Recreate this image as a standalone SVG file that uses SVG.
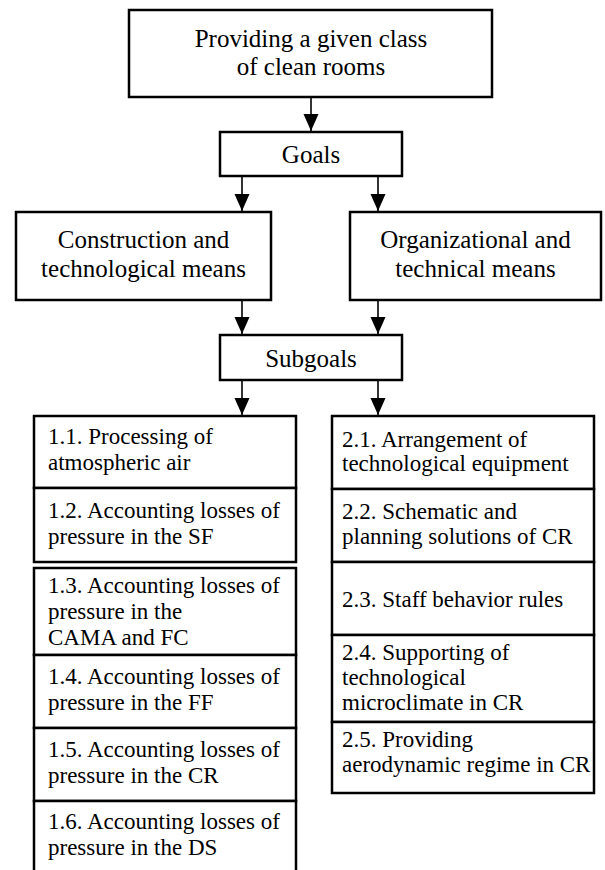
<svg xmlns="http://www.w3.org/2000/svg" width="605" height="870" viewBox="0 0 605 870">
<style>
.box{fill:#fff;stroke:#000;stroke-width:2.5}
.t{font-family:"Liberation Serif","Times New Roman",serif;font-size:25px;fill:#000}
.c{text-anchor:middle}
.s{font-family:"Liberation Serif","Times New Roman",serif;font-size:23px;fill:#000}
.ln{stroke:#000;stroke-width:1.6;fill:none;marker-end:url(#ah)}
</style>
<defs>
<marker id="ah" markerUnits="userSpaceOnUse" markerWidth="18" markerHeight="16" refX="17" refY="7.5" orient="auto">
<path d="M0,0 L17,7.5 L0,15 Z" fill="#000"/>
</marker>
</defs>
<rect width="605" height="870" fill="#fff"/>
<g id="connectors">
<line class="ln" x1="311" y1="97" x2="311" y2="131"/>
<line class="ln" x1="242" y1="176" x2="242" y2="211"/>
<line class="ln" x1="378" y1="176" x2="378" y2="211"/>
<line class="ln" x1="242" y1="300" x2="242" y2="334"/>
<line class="ln" x1="378" y1="300" x2="378" y2="334"/>
<line class="ln" x1="242" y1="380" x2="242" y2="415"/>
<line class="ln" x1="378" y1="380" x2="378" y2="415"/>
</g>
<g id="root">
<rect class="box" x="129" y="10" width="363" height="87"/>
<text class="t c" x="311" y="47">Providing a given class</text>
<text class="t c" x="311" y="75">of clean rooms</text>
</g>
<g id="goals">
<rect class="box" x="220" y="132" width="182" height="44"/>
<text class="t c" x="311" y="163">Goals</text>
</g>
<g id="construction">
<rect class="box" x="16" y="212" width="255" height="88"/>
<text class="t c" x="143.5" y="248">Construction and</text>
<text class="t c" x="143.5" y="277">technological means</text>
</g>
<g id="organizational">
<rect class="box" x="350" y="212" width="251" height="88"/>
<text class="t c" x="475.5" y="248">Organizational and</text>
<text class="t c" x="475.5" y="277">technical means</text>
</g>
<g id="subgoals">
<rect class="box" x="220" y="335" width="182" height="45"/>
<text class="t c" x="311" y="367">Subgoals</text>
</g>
<g id="s1-1">
<rect class="box" x="34" y="416" width="262" height="72"/>
<text class="s" x="48" y="444">1.1. Processing of</text>
<text class="s" x="48" y="470">atmospheric air</text>
</g>
<g id="s1-2">
<rect class="box" x="34" y="488" width="262" height="74"/>
<text class="s" x="48" y="518">1.2. Accounting losses of</text>
<text class="s" x="48" y="544">pressure in the SF</text>
</g>
<g id="s1-3">
<rect class="box" x="34" y="568" width="262" height="87"/>
<text class="s" x="48" y="593">1.3. Accounting losses of</text>
<text class="s" x="48" y="619">pressure in the</text>
<text class="s" x="48" y="645">CAMA and FC</text>
</g>
<g id="s1-4">
<rect class="box" x="34" y="655" width="262" height="73"/>
<text class="s" x="48" y="684">1.4. Accounting losses of</text>
<text class="s" x="48" y="710">pressure in the FF</text>
</g>
<g id="s1-5">
<rect class="box" x="34" y="728" width="262" height="73"/>
<text class="s" x="48" y="757">1.5. Accounting losses of</text>
<text class="s" x="48" y="783">pressure in the CR</text>
</g>
<g id="s1-6">
<rect class="box" x="34" y="801" width="262" height="80"/>
<text class="s" x="48" y="829">1.6. Accounting losses of</text>
<text class="s" x="48" y="855">pressure in the DS</text>
</g>
<g id="s2-1">
<rect class="box" x="332" y="416" width="262" height="73"/>
<text class="s" x="342" y="447">2.1. Arrangement of</text>
<text class="s" x="342" y="471">technological equipment</text>
</g>
<g id="s2-2">
<rect class="box" x="332" y="489" width="262" height="73"/>
<text class="s" x="342" y="519">2.2. Schematic and</text>
<text class="s" x="342" y="544">planning solutions of CR</text>
</g>
<g id="s2-3">
<rect class="box" x="332" y="562" width="262" height="73"/>
<text class="s" x="342" y="607">2.3. Staff behavior rules</text>
</g>
<g id="s2-4">
<rect class="box" x="332" y="635" width="262" height="87"/>
<text class="s" x="342" y="660">2.4. Supporting of</text>
<text class="s" x="342" y="685">technological</text>
<text class="s" x="342" y="710">microclimate in CR</text>
</g>
<g id="s2-5">
<rect class="box" x="332" y="722" width="262" height="71"/>
<text class="s" x="342" y="747">2.5. Providing</text>
<text class="s" x="342" y="772">aerodynamic regime in CR</text>
</g>
</svg>
